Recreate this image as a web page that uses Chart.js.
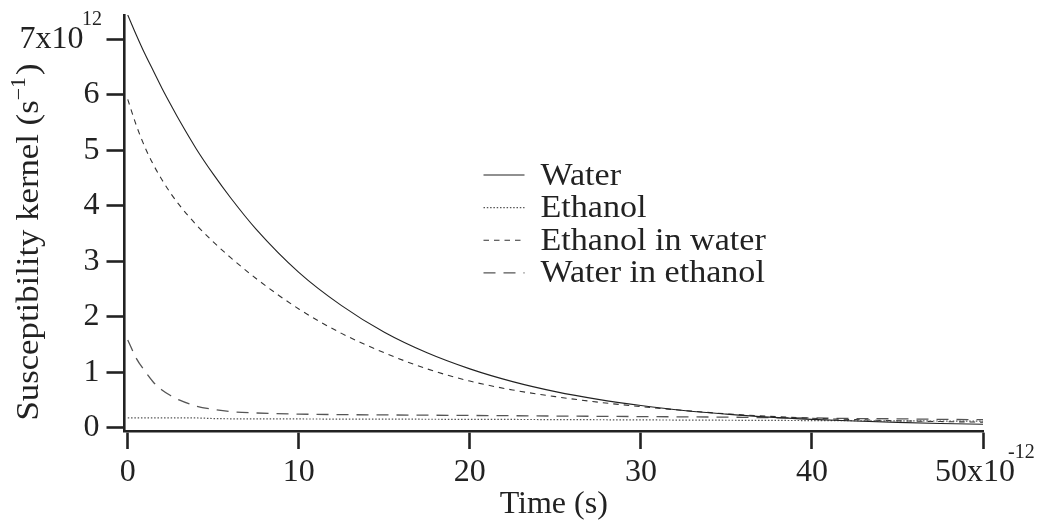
<!DOCTYPE html>
<html>
<head>
<meta charset="utf-8">
<script src="https://cdn.jsdelivr.net/npm/chart.js@4/dist/chart.umd.min.js"></script>
<style>
html,body{margin:0;padding:0;background:#fff;}
#wrap{width:1042px;height:521px;position:relative;}
canvas{display:block;}
</style>
</head>
<body>
<div id="wrap"><canvas id="c" width="1042" height="521" style="width:1042px;height:521px"></canvas></div>
<script>
// ---- data (time in ps, kernel in 1e12 s^-1) ----
const times = [0, 0.5, 1, 1.5, 2, 2.5, 3, 4, 5, 6, 7.5, 10, 12.5, 15, 17.5, 20, 22.5, 25, 27.5, 30, 32.5, 35, 37.5, 40, 42.5, 45, 47.5, 50];
const water = [7.44, 7.08, 6.74, 6.43, 6.12, 5.83, 5.55, 5.03, 4.57, 4.15, 3.58, 2.80, 2.20, 1.72, 1.35, 1.06, 0.83, 0.65, 0.51, 0.40, 0.31, 0.245, 0.19, 0.15, 0.12, 0.095, 0.075, 0.062];
const ethanol = [0.175, 0.175, 0.175, 0.175, 0.175, 0.175, 0.175, 0.175, 0.165, 0.16, 0.158, 0.157, 0.155, 0.154, 0.152, 0.15, 0.148, 0.146, 0.143, 0.14, 0.137, 0.134, 0.131, 0.128, 0.125, 0.123, 0.12, 0.118];
const ethanolInWater = [5.92, 5.45, 5.06, 4.74, 4.47, 4.23, 4.02, 3.66, 3.35, 3.07, 2.69, 2.14, 1.70, 1.35, 1.06, 0.84, 0.68, 0.56, 0.46, 0.38, 0.31, 0.25, 0.205, 0.17, 0.145, 0.125, 0.11, 0.10];
const waterInEthanol = [1.58, 1.25, 1.02, 0.82, 0.68, 0.58, 0.50, 0.39, 0.33, 0.29, 0.265, 0.245, 0.235, 0.23, 0.225, 0.22, 0.215, 0.21, 0.205, 0.20, 0.195, 0.19, 0.18, 0.175, 0.165, 0.16, 0.15, 0.145];

const seriesNames = ['Water', 'Ethanol', 'Ethanol in water', 'Water in ethanol'];
const xTickValues = [0, 10, 20, 30, 40, 50];
const xTickLabels = ['0', '10', '20', '30', '40', '50x10  '];
const yTickValues = [0, 1, 2, 3, 4, 5, 6, 7];
const yTickLabels = ['0', '1', '2', '3', '4', '5', '6', '7x10  '];
const xExponent = '-12';
const yExponent = '12';
const xTitle = 'Time (s)';
const yTitleMain = 'Susceptibility kernel (s';
const yTitleSup = '\u22121';
const yTitleEnd = ')';

// ---- styles ----
const FONT = "'Liberation Serif', 'Times New Roman', serif";
const TEXT = '#222';
const AXIS = '#222';
const styles = [
  {color: '#222', dash: [], width: 1.1},
  {color: '#555', dash: [1.5, 1.8], width: 1.2},
  {color: '#333', dash: [5.5, 5], width: 1.1},
  {color: '#555', dash: [12, 8], width: 1.3}
];
const allSeries = [water, ethanol, ethanolInWater, waterInEthanol];

const datasets = allSeries.map((vals, i) => ({
  label: seriesNames[i],
  data: times.map((t, k) => ({x: t, y: vals[k]})),
  borderColor: styles[i].color,
  borderWidth: styles[i].width,
  borderDash: styles[i].dash,
  pointRadius: 0,
  fill: false,
  cubicInterpolationMode: 'monotone'
}));

const overlay = {
  id: 'overlay',
  afterDraw(chart) {
    const {ctx, chartArea: ca, scales} = chart;
    const xs = scales.x, ys = scales.y;
    ctx.save();
    ctx.fillStyle = TEXT;
    // exponents
    ctx.font = '20px ' + FONT;
    ctx.textAlign = 'left';
    ctx.textBaseline = 'alphabetic';
    ctx.fillText(yExponent, ca.left - 42.5, ys.getPixelForValue(7) - 14.5);
    ctx.fillText(xExponent, xs.getPixelForValue(50) + 25, ca.bottom + 27);

    // y title (rotated, slightly widened to match reference typeface)
    ctx.save();
    ctx.translate(38, (ca.top + ca.bottom) / 2 + 19);
    ctx.rotate(-Math.PI / 2);
    ctx.scale(1.085, 1);
    ctx.font = '32px ' + FONT;
    const w1 = ctx.measureText(yTitleMain).width;
    ctx.font = '20px ' + FONT;
    const w2 = ctx.measureText(yTitleSup).width;
    ctx.font = '32px ' + FONT;
    const w3 = ctx.measureText(yTitleEnd).width;
    const total = w1 + w2 + 2 + w3;
    let cx = -total / 2;
    ctx.textAlign = 'left';
    ctx.fillText(yTitleMain, cx, 0);
    cx += w1;
    ctx.font = '20px ' + FONT;
    ctx.fillText(yTitleSup, cx, -13);
    cx += w2 + 2;
    ctx.font = '32px ' + FONT;
    ctx.fillText(yTitleEnd, cx, 0);
    ctx.restore();

    // legend
    const lx0 = ca.left + 359, lx1 = ca.left + 400, tx = ca.left + 416;
    chart.data.datasets.forEach((ds, i) => {
      const base = ca.top + 169.5 + i * 32.6;
      const ly = base - 9.5;
      ctx.save();
      ctx.strokeStyle = ds.borderColor;
      ctx.lineWidth = ds.borderWidth;
      ctx.setLineDash(ds.borderDash);
      ctx.beginPath();
      ctx.moveTo(lx0, ly);
      ctx.lineTo(lx1, ly);
      ctx.stroke();
      ctx.restore();
      ctx.save();
      ctx.translate(tx, base);
      ctx.scale(1.065, 1);
      ctx.font = '32px ' + FONT;
      ctx.fillStyle = TEXT;
      ctx.textAlign = 'left';
      ctx.textBaseline = 'alphabetic';
      ctx.fillText(ds.label, 0, 0);
      ctx.restore();
    });
    ctx.restore();
  }
};

new Chart(document.getElementById('c'), {
  type: 'line',
  data: {datasets},
  options: {
    responsive: false,
    animation: false,
    devicePixelRatio: 1,
    layout: {padding: {left: 0, right: 59, top: 15, bottom: 0}},
    plugins: {legend: {display: false}, tooltip: {enabled: false}, title: {display: false}},
    scales: {
      x: {
        type: 'linear',
        min: -0.19,
        max: 50,
        afterBuildTicks: s => { s.ticks = xTickValues.map(v => ({value: v})); },
        afterFit: s => { s.height = 90; s.paddingLeft = 0; s.paddingRight = 0; },
        grid: {drawOnChartArea: false, drawTicks: true, tickLength: 18, tickWidth: 2.6, tickColor: AXIS},
        border: {display: true, width: 2.6, color: AXIS},
        ticks: {
          autoSkip: false, maxRotation: 0, padding: 4,
          color: TEXT, font: {family: FONT, size: 32},
          callback: (v) => { const k = xTickValues.indexOf(v); return k >= 0 ? xTickLabels[k] : ''; }
        },
        title: {display: true, text: xTitle, color: TEXT, font: {family: FONT, size: 32}, padding: {top: 0, bottom: -3}}
      },
      y: {
        type: 'linear',
        min: -0.06,
        max: 7.44,
        afterBuildTicks: s => { s.ticks = yTickValues.map(v => ({value: v})); },
        afterFit: s => { s.width = 124.5; s.paddingTop = 0; s.paddingBottom = 0; },
        grid: {drawOnChartArea: false, drawTicks: true, tickLength: 18, tickWidth: 2.6, tickColor: AXIS},
        border: {display: true, width: 2.6, color: AXIS},
        ticks: {
          autoSkip: false, padding: 7,
          color: TEXT, font: {family: FONT, size: 32},
          callback: (v) => { const k = yTickValues.indexOf(v); return k >= 0 ? yTickLabels[k] : ''; }
        }
      }
    }
  },
  plugins: [overlay]
});
</script>
</body>
</html>
